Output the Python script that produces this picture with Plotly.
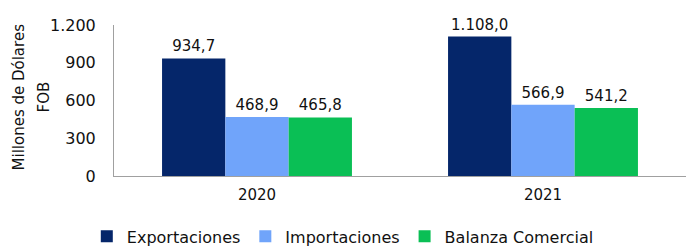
import plotly.graph_objects as go

categories = ["2020", "2021"]
exportaciones = [934.7, 1108.0]
importaciones = [468.9, 566.9]
balanza = [465.8, 541.2]
series_names = ["Exportaciones", "Importaciones", "Balanza Comercial"]
colors = ["#05266A", "#70A4FA", "#0ABF55"]
y_ticks = [0, 300, 600, 900, 1200]
y_ticktext = ["0", "300", "600", "900", "1.200"]


def fmt(v):
    s = f"{v:,.1f}"
    return s.replace(",", "X").replace(".", ",").replace("X", ".")


FONT = "DejaVu Sans"
fig = go.Figure()
for name, vals, col in zip(series_names, [exportaciones, importaciones, balanza], colors):
    fig.add_trace(go.Bar(
        x=categories, y=vals, name=name,
        marker=dict(color=col, line=dict(width=0)),
        text=[fmt(v) for v in vals], textposition="outside",
        textfont=dict(family=FONT, size=15, color="#111111"),
        cliponaxis=False,
    ))

fig.update_layout(
    width=686, height=246,
    margin=dict(l=114, r=0, t=25, b=70, autoexpand=False),
    paper_bgcolor="white", plot_bgcolor="white",
    barmode="group", bargap=0.336, bargroupgap=0,
    font=dict(family=FONT, size=15, color="#111111"),
    showlegend=True,
    legend=dict(orientation="h", x=0.40, xanchor="center", y=-0.40, yanchor="middle",
                font=dict(family=FONT, size=16, color="#111111"),
                itemwidth=30, tracegroupgap=0),
    xaxis=dict(showline=True, linecolor="#A0A0A0", linewidth=1, automargin=False,
               ticks="outside", ticklen=5, tickcolor="rgba(0,0,0,0)",
               showgrid=False, tickfont=dict(family=FONT, size=15)),
    yaxis=dict(range=[0, 1200], tickvals=y_ticks, ticktext=y_ticktext, automargin=False,
               showline=True, linecolor="#A0A0A0", linewidth=1,
               ticks="outside", ticklen=14, tickcolor="rgba(0,0,0,0)",
               showgrid=False, zeroline=False, tickfont=dict(family=FONT, size=16)),
    annotations=[
        dict(text="Millones de Dólares", textangle=-90,
             xref="paper", yref="paper", x=(19 - 114) / 572, y=0.52,
             xanchor="center", yanchor="middle", showarrow=False,
             font=dict(family=FONT, size=15, color="#111111")),
        dict(text="FOB", textangle=-90,
             xref="paper", yref="paper", x=(44 - 114) / 572, y=0.52,
             xanchor="center", yanchor="middle", showarrow=False,
             font=dict(family=FONT, size=15, color="#111111")),
    ],
)

fig.write_html("out.html", config={"displayModeBar": False},
               post_script="document.body.style.margin='0';")
